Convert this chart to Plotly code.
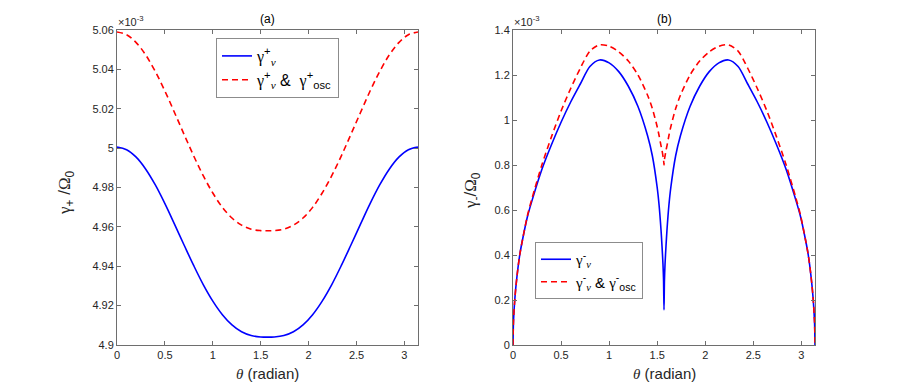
import plotly.graph_objects as go
from plotly.subplots import make_subplots

# (a) gamma_+ / Omega_0  (x 1e-3)
THETA_A = [0, 0.1, 0.2, 0.3, 0.4, 0.5, 0.6, 0.7, 0.8, 0.9, 1.0, 1.1, 1.2, 1.3, 1.4, 1.5,
           1.5708,
           1.6416, 1.7416, 1.8416, 1.9416, 2.0416, 2.1416, 2.2416, 2.3416, 2.4416, 2.5416,
           2.6416, 2.7416, 2.8416, 2.9416, 3.0416, 3.1416]
GAMMA_NU_PLUS = [5.0005, 4.9992, 4.9954, 4.9893, 4.9813, 4.9718, 4.9614, 4.9508, 4.9404,
                 4.9307, 4.9223, 4.9154, 4.9102, 4.9067, 4.9048, 4.9041,
                 4.9040,
                 4.9041, 4.9048, 4.9067, 4.9102, 4.9154, 4.9223, 4.9307, 4.9404, 4.9508,
                 4.9614, 4.9718, 4.9813, 4.9893, 4.9954, 4.9992, 5.0005]
GAMMA_OSC_PLUS = [5.0590, 5.0576, 5.0536, 5.0473, 5.0389, 5.0290, 5.0181, 5.0070, 4.9961,
                  4.9860, 4.9772, 4.9699, 4.9645, 4.9609, 4.9588, 4.9581,
                  4.9580,
                  4.9581, 4.9588, 4.9609, 4.9645, 4.9699, 4.9772, 4.9860, 4.9961, 5.0070,
                  5.0181, 5.0290, 5.0389, 5.0473, 5.0536, 5.0576, 5.0590]

# (b) gamma_- / Omega_0  (x 1e-3)
THETA_B = [0, 0.005, 0.02, 0.04, 0.07, 0.1, 0.15, 0.2, 0.3, 0.4, 0.5, 0.6, 0.7, 0.8, 0.9,
           1.0, 1.1, 1.2, 1.3, 1.4, 1.45, 1.5, 1.52, 1.54, 1.55, 1.56, 1.566,
           1.5708,
           1.5756, 1.5816, 1.5916, 1.6016, 1.6216, 1.6416, 1.6916, 1.7416, 1.8416, 1.9416,
           2.0416, 2.1416, 2.2416, 2.3416, 2.4416, 2.5416, 2.6416, 2.7416, 2.8416, 2.9416,
           2.9916, 3.0416, 3.0716, 3.1016, 3.1216, 3.1366, 3.1416]
GAMMA_NU_MINUS = [0, 0.105, 0.21, 0.30, 0.40, 0.47, 0.57, 0.645, 0.78, 0.89, 0.99, 1.08,
                  1.16, 1.238, 1.267, 1.254, 1.215, 1.15, 1.06, 0.93, 0.84, 0.70, 0.62,
                  0.51, 0.44, 0.36, 0.29,
                  0.156,
                  0.29, 0.36, 0.44, 0.51, 0.62, 0.70, 0.84, 0.93, 1.06, 1.15, 1.215, 1.254,
                  1.267, 1.238, 1.16, 1.08, 0.99, 0.89, 0.78, 0.645, 0.57, 0.47, 0.40,
                  0.30, 0.21, 0.105, 0]
GAMMA_OSC_MINUS = [0, 0.105, 0.21, 0.30, 0.40, 0.47, 0.575, 0.655, 0.80, 0.925, 1.04, 1.14,
                   1.23, 1.306, 1.334, 1.328, 1.303, 1.262, 1.20, 1.11, 1.05, 0.97, 0.93,
                   0.885, 0.865, 0.84, 0.825,
                   0.80,
                   0.825, 0.84, 0.865, 0.885, 0.93, 0.97, 1.05, 1.11, 1.20, 1.262, 1.303,
                   1.328, 1.334, 1.306, 1.23, 1.14, 1.04, 0.925, 0.80, 0.655, 0.575, 0.47,
                   0.40, 0.30, 0.21, 0.105, 0]

X_TICKS = [0, 0.5, 1, 1.5, 2, 2.5, 3]
X_TICKTEXT = ['0', '0.5', '1', '1.5', '2', '2.5', '3']
YA_TICKS = [4.9, 4.92, 4.94, 4.96, 4.98, 5.0, 5.02, 5.04, 5.06]
YA_TICKTEXT = ['4.9', '4.92', '4.94', '4.96', '4.98', '5', '5.02', '5.04', '5.06']
YB_TICKS = [0, 0.2, 0.4, 0.6, 0.8, 1.0, 1.2, 1.4]
YB_TICKTEXT = ['0', '0.2', '0.4', '0.6', '0.8', '1', '1.2', '1.4']

BLUE = '#0000FF'
RED = '#FF0000'
AXIS_COLOR = '#6e6e6e'
TEXT_COLOR = '#262626'
SANS = 'Liberation Sans, Arial, sans-serif'
SERIF = 'Liberation Serif, Times New Roman, serif'

# page body has an 8px margin, so the figure sits at (8, 8) in the window
W, H = 892, 380


def px(x):
	return (x - 8) / W


def py(y):
	return 1 - (y - 8) / H


def g(s):
	# greek letter in a serif face
	return f'<span style="font-family:{SERIF}">{s}</span>'


fig = make_subplots(rows=1, cols=2)

fig.add_trace(go.Scatter(
	x=THETA_A, y=GAMMA_NU_PLUS, mode='lines', line_shape='spline',
	line=dict(color=BLUE, width=1.6),
	name=g('γ') + '<sup>+</sup><sub>' + g('<i>ν</i>') + '</sub>',
	legend='legend',
), row=1, col=1)
fig.add_trace(go.Scatter(
	x=THETA_A, y=GAMMA_OSC_PLUS, mode='lines', line_shape='spline',
	line=dict(color=RED, width=1.6, dash='6px,4px'),
	name=g('γ') + '<sup>+</sup><sub>' + g('<i>ν</i>') + '</sub> &  ' + g('γ') + '<sup>+</sup><sub>osc</sub>',
	legend='legend',
), row=1, col=1)
fig.add_trace(go.Scatter(
	x=THETA_B, y=GAMMA_NU_MINUS, mode='lines', line_shape='spline', line_smoothing=0.8,
	line=dict(color=BLUE, width=1.6),
	name=g('γ') + '<sup>-</sup><sub>' + g('<i>ν</i>') + '</sub>',
	legend='legend2',
), row=1, col=2)
fig.add_trace(go.Scatter(
	x=THETA_B, y=GAMMA_OSC_MINUS, mode='lines', line_shape='spline', line_smoothing=0.8,
	line=dict(color=RED, width=1.6, dash='6px,4px'),
	name=g('γ') + '<sup>-</sup><sub>' + g('<i>ν</i>') + '</sub> & ' + g('γ') + '<sup>-</sup><sub>osc</sub>',
	legend='legend2',
), row=1, col=2)

axis_common = dict(
	showline=True, linecolor=AXIS_COLOR, linewidth=1, mirror='ticks',
	ticks='inside', ticklen=4, tickcolor=AXIS_COLOR, tickwidth=1,
	showgrid=False, zeroline=False,
	tickfont=dict(family=SANS, size=11, color=TEXT_COLOR),
	automargin=False,
)

x_dom_a = [px(117), px(418)]
x_dom_b = [px(513), px(815)]
y_dom = [py(345), py(30)]

fig.update_xaxes(axis_common, range=[0, 3.1416], tickvals=X_TICKS, ticktext=X_TICKTEXT)
fig.update_xaxes(domain=x_dom_a, row=1, col=1)
fig.update_xaxes(domain=x_dom_b, row=1, col=2)
fig.update_yaxes(axis_common, domain=y_dom)
fig.update_yaxes(range=[4.9, 5.06], tickvals=YA_TICKS, ticktext=YA_TICKTEXT, row=1, col=1)
fig.update_yaxes(range=[0, 1.4], tickvals=YB_TICKS, ticktext=YB_TICKTEXT, row=1, col=2)

legend_common = dict(
	bgcolor='white', bordercolor='#8c8c8c', borderwidth=1,
	xanchor='left', yanchor='top', itemwidth=30, tracegroupgap=0,
)
fig.update_layout(
	legend=dict(legend_common, x=px(216), y=py(38),
	            font=dict(family=SANS, size=16, color='black')),
	legend2=dict(legend_common, x=px(535), y=py(242),
	             font=dict(family=SANS, size=15, color='black')),
)

annotations = []
for xl, xr, title in ((117, 418, '(a)'), (513, 815, '(b)')):
	xc = px((xl + xr) / 2)
	annotations.append(dict(
		x=xc, y=py(19), xref='paper', yref='paper', text=title, showarrow=False,
		font=dict(family=SANS, size=12, color='black'), xanchor='center', yanchor='middle',
	))
	annotations.append(dict(
		x=xc, y=py(373), xref='paper', yref='paper',
		text=g('<i>θ</i>') + ' (radian)', showarrow=False,
		font=dict(family=SANS, size=15, color=TEXT_COLOR), xanchor='center', yanchor='middle',
	))
	annotations.append(dict(
		x=px(xl - 1), y=py(21), xref='paper', yref='paper',
		text='×10<sup>-3</sup>', showarrow=False,
		font=dict(family=SANS, size=11, color=TEXT_COLOR), xanchor='left', yanchor='middle',
	))

annotations.append(dict(
	x=px(66), y=py(192), xref='paper', yref='paper', textangle=-90,
	text=g('γ') + '<sub>+</sub> /' + g('Ω') + '<sub>0</sub>', showarrow=False,
	font=dict(family=SANS, size=17, color=TEXT_COLOR), xanchor='center', yanchor='middle',
))
annotations.append(dict(
	x=px(472), y=py(190), xref='paper', yref='paper', textangle=-90,
	text=g('γ') + '<sub>-</sub>/' + g('Ω') + '<sub>0</sub>', showarrow=False,
	font=dict(family=SANS, size=17, color=TEXT_COLOR), xanchor='center', yanchor='middle',
))

fig.update_layout(
	annotations=annotations,
	width=W, height=H,
	margin=dict(l=0, r=0, t=0, b=0),
	paper_bgcolor='white', plot_bgcolor='white',
	showlegend=True,
)

fig.write_html('out.html')
